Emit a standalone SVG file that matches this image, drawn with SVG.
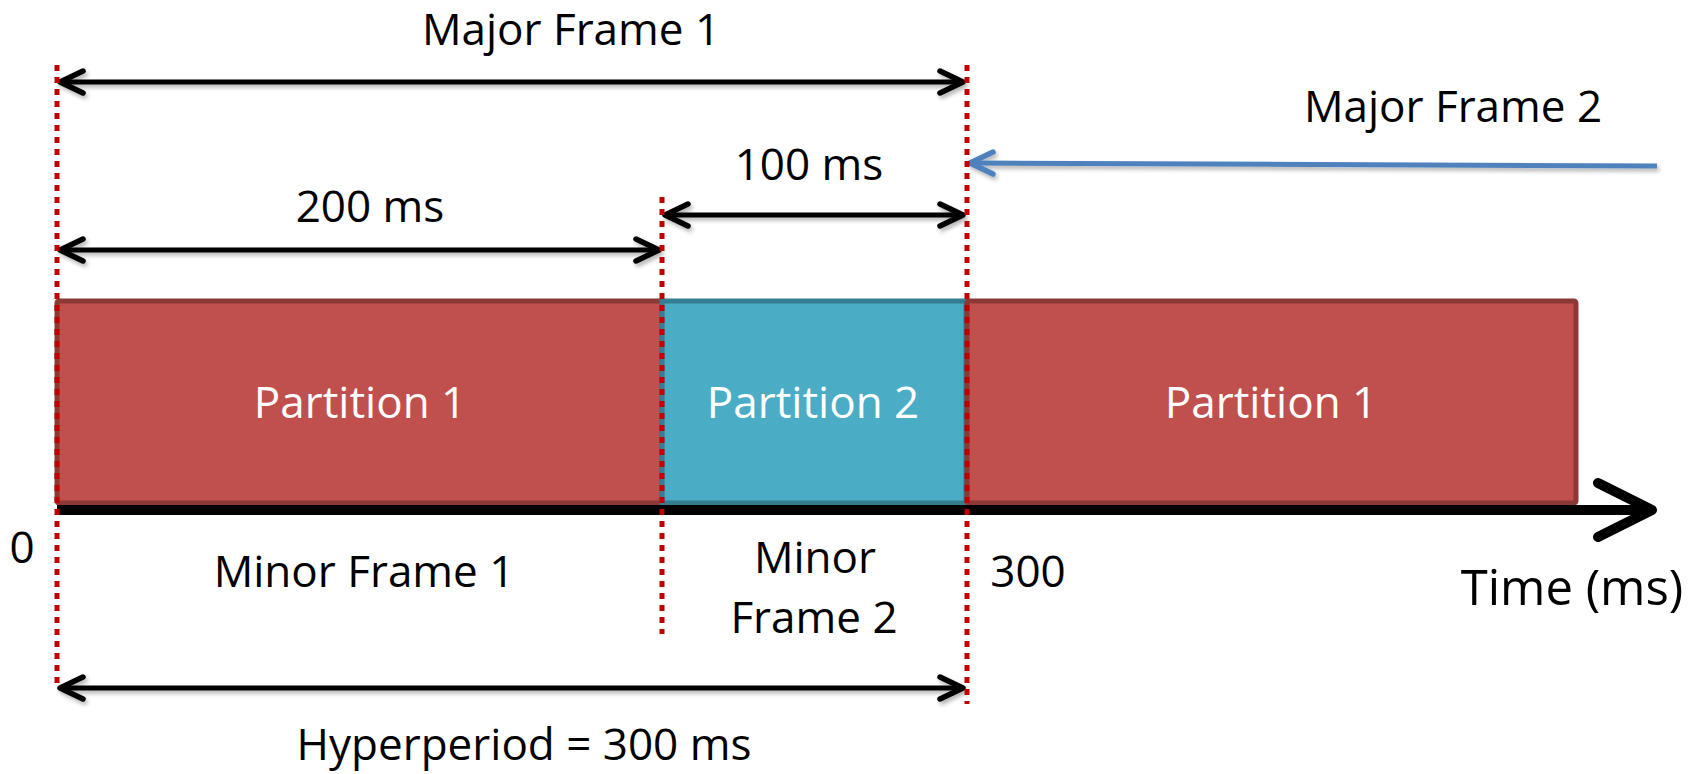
<svg xmlns="http://www.w3.org/2000/svg" width="1689" height="774" viewBox="0 0 1689 774">
  <style>
    .lbl { font-family: "Open Sans", "Liberation Sans", sans-serif; font-size: 44px; fill: #000; text-anchor: middle; }
    .plbl { font-family: "Open Sans", "Liberation Sans", sans-serif; font-size: 44px; fill: #fff; text-anchor: middle; }
    .red { fill: #C0504D; stroke: #8C3836; stroke-width: 5; }
    .blue { fill: #4BACC6; stroke: #357D91; stroke-width: 5; }
    .dim { stroke: #000; stroke-width: 5; fill: none; }
    .mark { fill: none; stroke: #C00000; stroke-width: 5; stroke-dasharray: 6 6; }
  </style>
  <defs>
    <filter id="shadow" x="-5%" y="-50%" width="110%" height="200%">
      <feGaussianBlur in="SourceAlpha" stdDeviation="2"/>
      <feOffset dx="2" dy="3" result="b"/>
      <feComponentTransfer><feFuncA type="linear" slope="0.3"/></feComponentTransfer>
      <feMerge><feMergeNode/><feMergeNode in="SourceGraphic"/></feMerge>
    </filter>
    <marker id="chev" markerUnits="userSpaceOnUse" orient="auto-start-reverse" refX="0" refY="0" markerWidth="40" markerHeight="40" viewBox="-30 -20 40 40" overflow="visible">
      <path d="M -23 -11 L 0 0 L -23 11" fill="none" stroke="#000" stroke-width="5.5" stroke-linecap="round" stroke-linejoin="round"/>
    </marker>
    <marker id="chevBlue" markerUnits="userSpaceOnUse" orient="auto-start-reverse" refX="0" refY="0" markerWidth="40" markerHeight="40" viewBox="-30 -20 40 40" overflow="visible">
      <path d="M -23 -11 L 0 0 L -23 11" fill="none" stroke="#4F81BD" stroke-width="5.5" stroke-linecap="round" stroke-linejoin="round"/>
    </marker>
  </defs>
  <rect width="1689" height="774" fill="#fff"/>

  <!-- partition slots -->
  <g id="slot-p1-a"><rect class="red" x="57" y="301" width="605" height="202" rx="2"/><text class="plbl" x="360" y="418">Partition 1</text></g>
  <g id="slot-p2"><rect class="blue" x="662" y="301" width="304" height="202"/><text class="plbl" x="813" y="418">Partition 2</text></g>
  <g id="slot-p1-b"><rect class="red" x="967" y="301" width="609" height="202" rx="2"/><text class="plbl" x="1271" y="418">Partition 1</text></g>

  <!-- time axis -->
  <g id="time-axis">
    <line x1="57" y1="510" x2="1650" y2="510" stroke="#000" stroke-width="10"/>
    <path d="M 1598 483 L 1652 510 L 1598 537" fill="none" stroke="#000" stroke-width="10" stroke-linecap="round" stroke-linejoin="round"/>
    <text class="lbl" x="1572" y="605" style="font-size:49px">Time (ms)</text>
    <text class="lbl" x="22" y="563">0</text>
    <text class="lbl" x="1028" y="587">300</text>
  </g>

  <!-- dimension connectors -->
  <g id="connectors" filter="url(#shadow)">
    <line class="dim" x1="60" y1="82" x2="963" y2="82" marker-start="url(#chev)" marker-end="url(#chev)"/>
    <line class="dim" x1="60" y1="250" x2="659" y2="250" marker-start="url(#chev)" marker-end="url(#chev)"/>
    <line class="dim" x1="665" y1="215" x2="963" y2="215" marker-start="url(#chev)" marker-end="url(#chev)"/>
    <line class="dim" x1="60" y1="688" x2="963" y2="688" marker-start="url(#chev)" marker-end="url(#chev)"/>
    <line x1="1657" y1="166" x2="970" y2="163" stroke="#4F81BD" stroke-width="5" marker-end="url(#chevBlue)"/>
  </g>

  <!-- frame boundary markers -->
  <g id="boundaries">
    <line class="mark" x1="57" y1="65" x2="57" y2="686"/>
    <line class="mark" x1="662" y1="197" x2="662" y2="634"/>
    <line class="mark" x1="967" y1="65" x2="967" y2="704"/>
  </g>

  <!-- labels -->
  <g id="major-frame-1"><text class="lbl" x="571" y="45">Major Frame 1</text></g>
  <g id="major-frame-2"><text class="lbl" x="1453" y="122">Major Frame 2</text></g>
  <g id="dur-200"><text class="lbl" x="370" y="222">200 ms</text></g>
  <g id="dur-100"><text class="lbl" x="809" y="180">100 ms</text></g>
  <g id="minor-frame-1"><text class="lbl" x="364" y="587">Minor Frame 1</text></g>
  <g id="minor-frame-2"><text class="lbl" x="815" y="573">Minor</text><text class="lbl" x="814" y="633">Frame 2</text></g>
  <g id="hyperperiod"><text class="lbl" x="524" y="760">Hyperperiod = 300 ms</text></g>
</svg>
